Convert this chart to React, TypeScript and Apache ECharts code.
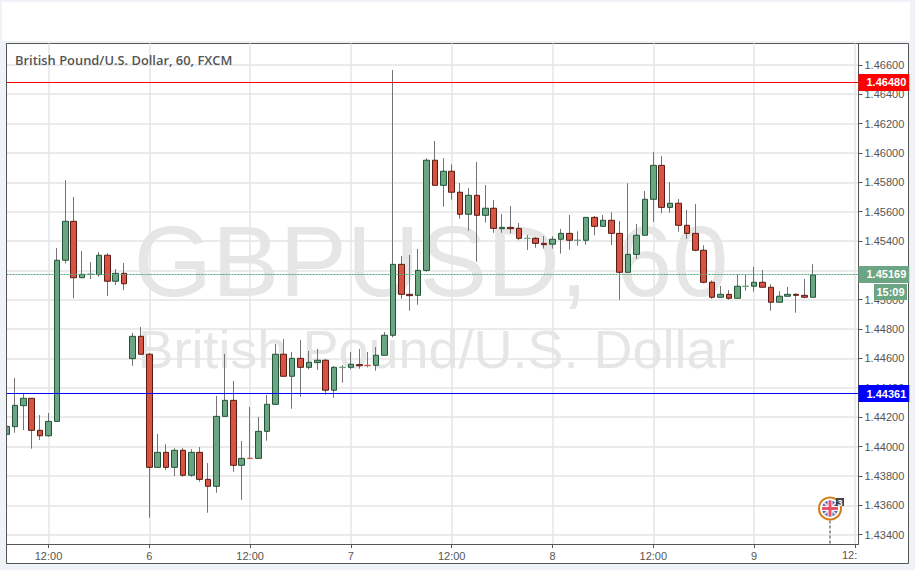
import React, { useEffect, useRef } from "react";
import * as echarts from "echarts";

// Hourly bar numbers: the first bar is hour 7, 12:00 on the first day is hour 12.
const firstHour = 7;
const opens = [
  1.44084, 1.44136, 1.44279, 1.44329, 1.44111, 1.44074, 1.44172, 1.45269, 1.45534, 1.4515,
  1.45173, 1.45171, 1.45303, 1.45126, 1.4518, 1.44599, 1.44751, 1.44629, 1.43859, 1.43961,
  1.43859, 1.43975, 1.43805, 1.43961, 1.43777, 1.4373, 1.44206, 1.44315, 1.43873, 1.43921,
  1.4392, 1.44104, 1.44288, 1.44629, 1.44479, 1.44601, 1.4454, 1.44572, 1.44588, 1.44384,
  1.44538, 1.4454, 1.44558, 1.44554, 1.44554, 1.44622, 1.44758, 1.45241, 1.45037, 1.4503,
  1.452, 1.4595, 1.45779, 1.45875, 1.45732, 1.45582, 1.45711, 1.45575, 1.45623, 1.45484,
  1.45493, 1.45486, 1.45417, 1.45418, 1.45384, 1.45378, 1.45412, 1.45452, 1.45404, 1.45405,
  1.45561, 1.455, 1.45541, 1.45452, 1.45187, 1.45309, 1.45439, 1.45684, 1.45915, 1.45629,
  1.45657, 1.45507, 1.45452, 1.45337, 1.45119, 1.45017, 1.45037, 1.4501, 1.45091, 1.45092,
  1.45119, 1.45085, 1.44983, 1.45024, 1.45037, 1.4503, 1.45017,
];
const highs = [
  1.44145, 1.44467, 1.44365, 1.44329, 1.44215, 1.44229, 1.45352, 1.45815, 1.457, 1.45332,
  1.45257, 1.45325, 1.45316, 1.45209, 1.4525, 1.44774, 1.44814, 1.44637, 1.44086, 1.44016,
  1.43989, 1.43989, 1.43982, 1.43997, 1.43888, 1.44345, 1.44631, 1.44447, 1.44038, 1.4427,
  1.44202, 1.44351, 1.44699, 1.44733, 1.44644, 1.44726, 1.44651, 1.44665, 1.44597, 1.44549,
  1.44556, 1.44644, 1.44665, 1.44644, 1.44678, 1.4478, 1.46564, 1.45298, 1.45305, 1.45346,
  1.45963, 1.46081, 1.45963, 1.45922, 1.45795, 1.45761, 1.45938, 1.45781, 1.45679, 1.45584,
  1.45638, 1.45523, 1.45441, 1.45427, 1.45434, 1.45432, 1.45482, 1.45577, 1.45466, 1.45561,
  1.4557, 1.45577, 1.45595, 1.45536, 1.45793, 1.45516, 1.4574, 1.46006, 1.45979, 1.45802,
  1.45686, 1.45611, 1.45652, 1.45371, 1.45132, 1.45094, 1.45066, 1.45173, 1.45173, 1.45223,
  1.45203, 1.45105, 1.45058, 1.45087, 1.45044, 1.45141, 1.45243,
];
const lows = [
  1.4408, 1.44095, 1.44113, 1.43986, 1.44045, 1.44068, 1.44172, 1.45248, 1.4501, 1.4515,
  1.45141, 1.45157, 1.45025, 1.451, 1.45066, 1.44551, 1.44629, 1.43516, 1.43859, 1.43841,
  1.438, 1.43795, 1.43795, 1.43761, 1.4355, 1.43686, 1.44206, 1.43829, 1.43638, 1.43918,
  1.4392, 1.4404, 1.44288, 1.44479, 1.44258, 1.4434, 1.44526, 1.44522, 1.44354, 1.44333,
  1.44435, 1.44526, 1.4453, 1.4454, 1.44517, 1.44622, 1.44744, 1.45007, 1.44925, 1.44966,
  1.45191, 1.45779, 1.45634, 1.45681, 1.45552, 1.4547, 1.45259, 1.45525, 1.45456, 1.45456,
  1.45452, 1.45405, 1.45339, 1.45354, 1.45348, 1.45348, 1.45314, 1.45341, 1.45368, 1.45375,
  1.45439, 1.455, 1.45373, 1.45, 1.45187, 1.45277, 1.45439, 1.45531, 1.45589, 1.45593,
  1.45463, 1.45416, 1.4533, 1.45112, 1.45007, 1.45017, 1.45, 1.4501, 1.45062, 1.45055,
  1.45085, 1.44925, 1.44983, 1.45024, 1.44912, 1.4501, 1.45017,
];
const closes = [
  1.44138, 1.44281, 1.44329, 1.44111, 1.44074, 1.44172, 1.45269, 1.45534, 1.4515, 1.45173,
  1.45175, 1.45303, 1.45126, 1.4518, 1.45109, 1.44751, 1.44629, 1.43859, 1.43961, 1.43859,
  1.43975, 1.43805, 1.43961, 1.43777, 1.4373, 1.44206, 1.44315, 1.43873, 1.4392, 1.43919,
  1.44104, 1.44288, 1.44629, 1.44479, 1.44601, 1.4454, 1.44574, 1.44588, 1.44384, 1.4454,
  1.44541, 1.44561, 1.44551, 1.44551, 1.44622, 1.44758, 1.45241, 1.45037, 1.45028, 1.452,
  1.4595, 1.45779, 1.45875, 1.45732, 1.45582, 1.45711, 1.45575, 1.45623, 1.45486, 1.45493,
  1.45484, 1.45418, 1.45419, 1.45384, 1.45375, 1.45412, 1.45452, 1.45405, 1.45406, 1.45561,
  1.455, 1.45541, 1.45452, 1.45187, 1.45309, 1.45439, 1.45684, 1.45915, 1.45629, 1.45657,
  1.45507, 1.45452, 1.45337, 1.45119, 1.45017, 1.45037, 1.4501, 1.45092, 1.45093, 1.45119,
  1.45085, 1.44983, 1.45024, 1.45037, 1.4503, 1.45017, 1.45169,
];

const yTickValues = [
  1.434, 1.436, 1.438, 1.44, 1.442, 1.444, 1.446, 1.448, 1.45, 1.452, 1.454, 1.456, 1.458,
  1.46, 1.462, 1.464, 1.466,
];
const xTickHours = [12, 24, 36, 48, 60, 72, 84, 96, 108];
const xTickLabels = ["12:00", "6", "12:00", "7", "12:00", "8", "12:00", "9", ""];
const clippedLastLabel = "12:";

const resistanceLevel = 1.4648;
const supportLevel = 1.44361;
const lastPrice = 1.45169;
// Drawn a hair above the quoted price so that the 1px dashes land on one pixel row.
const lastPriceLineLevel = 1.45172;
const countdownLabel = "15:09";
const titleText = "British Pound/U.S. Dollar, 60, FXCM";
const watermarkSymbol = "GBPUSD, 60";
const watermarkName = "British Pound/U.S. Dollar";

const UP = "#6ba583";
const DOWN = "#d75442";
const UP_BORDER = "#225437";
const DOWN_BORDER = "#5b1a13";
const WICK = "#737375";
const GRID = "#e4e4e4";
const AXIS = "#555555";
const PAGE = "#eff3f7";
const SANS = '"Liberation Sans", Arial, sans-serif';

function priceLine(level: number, quoted: number, color: string, labelColor: string, dashed: boolean) {
  return {
    yAxis: level,
    lineStyle: { color, width: 1, type: dashed ? ([2, 1] as number[]) : "solid", opacity: 1 },
    label: {
      show: true,
      position: "end",
      distance: 0,
      formatter: () => quoted.toFixed(5),
      color: "#ffffff",
      fontFamily: SANS,
      fontSize: 11,
      fontWeight: "bold",
      backgroundColor: labelColor,
      padding: [3, 3, 3, 8],
    },
  };
}

function flagGraphics() {
  const cx = 830;
  const cy = 508.5;
  const r = 8;
  const d = r * 0.707;
  return [
    { type: "line", z: 20, shape: { x1: cx, y1: cy + 12, x2: cx, y2: 544 }, style: { stroke: "#999999", lineWidth: 2, lineDash: [3, 2] } },
    { type: "circle", z: 20, shape: { cx, cy, r: 11 }, style: { fill: "#ffffff", stroke: "#d27c12", lineWidth: 2 } },
    { type: "circle", z: 21, shape: { cx, cy, r }, style: { fill: "#4f63ad" } },
    { type: "line", z: 22, shape: { x1: cx - d, y1: cy - d, x2: cx + d, y2: cy + d }, style: { stroke: "#f2d7de", lineWidth: 2 } },
    { type: "line", z: 22, shape: { x1: cx - d, y1: cy + d, x2: cx + d, y2: cy - d }, style: { stroke: "#f2d7de", lineWidth: 2 } },
    { type: "line", z: 23, shape: { x1: cx - r, y1: cy, x2: cx + r, y2: cy }, style: { stroke: "#ffffff", lineWidth: 5 } },
    { type: "line", z: 23, shape: { x1: cx, y1: cy - r, x2: cx, y2: cy + r }, style: { stroke: "#ffffff", lineWidth: 5 } },
    { type: "line", z: 24, shape: { x1: cx - r, y1: cy, x2: cx + r, y2: cy }, style: { stroke: "#e8526b", lineWidth: 3 } },
    { type: "line", z: 24, shape: { x1: cx, y1: cy - r, x2: cx, y2: cy + r }, style: { stroke: "#e8526b", lineWidth: 3 } },
    { type: "rect", z: 25, shape: { x: 836, y: 498, width: 8, height: 8 }, style: { fill: "#444444" } },
    { type: "text", z: 26, style: { x: 840, y: 502.5, text: "3", fill: "#ffffff", font: `bold 9px ${SANS}`, textAlign: "center", textVerticalAlign: "middle" } },
  ];
}

export default function App() {
  const ref = useRef<HTMLDivElement>(null);
  useEffect(() => {
    const chart = echarts.init(ref.current!, undefined, { renderer: "svg" });
    const hours = opens.map((_, i) => firstHour + i);
    const wickData = hours.map((h, i) => [h, opens[i], closes[i], lows[i], highs[i]]);
    const bodyData = hours.map((h, i) => {
      const up = closes[i] >= opens[i];
      const o = opens[i];
      const c = closes[i];
      const thin = Math.abs(o - c) < 0.00005;
      return {
        value: [h, o, c, Math.min(o, c), Math.max(o, c)],
        itemStyle: thin ? { borderColor: up ? UP : DOWN, borderColor0: up ? UP : DOWN } : undefined,
      };
    });
    chart.setOption({
      animation: false,
      backgroundColor: PAGE,
      grid: { left: 6.5, top: 43.5, width: 852, height: 500.5, show: false },
      xAxis: {
        type: "value",
        min: firstHour,
        max: firstHour + 852 / 8.4,
        axisLine: { show: true, lineStyle: { color: AXIS, width: 1 } },
        axisTick: { show: true, length: 4, lineStyle: { color: AXIS }, customValues: xTickHours },
        axisLabel: {
          customValues: xTickHours,
          color: AXIS,
          fontFamily: SANS,
          fontSize: 11,
          margin: 6,
          formatter: (v: number) => xTickLabels[xTickHours.indexOf(v)] ?? "",
        },
        splitLine: { show: true, lineStyle: { color: GRID, width: 1.5 } },
      },
      yAxis: {
        type: "value",
        position: "right",
        min: 1.43337,
        max: 1.467447,
        axisLine: { show: true, lineStyle: { color: AXIS, width: 1 } },
        axisTick: { show: true, length: 4, lineStyle: { color: AXIS }, customValues: yTickValues },
        axisLabel: {
          customValues: yTickValues,
          color: AXIS,
          fontFamily: SANS,
          fontSize: 11,
          margin: 6,
          formatter: (v: number) => v.toFixed(5),
        },
        splitLine: { show: true, lineStyle: { color: GRID, width: 1.5 } },
      },
      series: [
        {
          name: "Wicks",
          type: "candlestick",
          barWidth: 1,
          z: 2,
          itemStyle: { color: WICK, color0: WICK, borderColor: WICK, borderColor0: WICK, borderWidth: 1 },
          data: wickData,
        },
        {
          name: "GBPUSD",
          type: "candlestick",
          barWidth: 6,
          z: 3,
          itemStyle: { color: UP, color0: DOWN, borderColor: UP_BORDER, borderColor0: DOWN_BORDER, borderWidth: 1 },
          data: bodyData,
          markLine: {
            silent: true,
            symbol: "none",
            precision: 5,
            animation: false,
            data: [
              priceLine(resistanceLevel, resistanceLevel, "#ff0000", "#ff0000", false),
              priceLine(supportLevel, supportLevel, "#0000ff", "#0000ff", false),
              priceLine(lastPriceLineLevel, lastPrice, "#55a47a", UP, true),
            ],
          },
        },
      ],
      graphic: [
        { type: "rect", z: -3, shape: { x: 2, y: 2, width: 908, height: 39 }, style: { fill: "#ffffff" } },
        { type: "rect", z: -3, shape: { x: 6.5, y: 43.5, width: 902, height: 520 }, style: { fill: "#ffffff", stroke: AXIS, lineWidth: 1 } },
        { type: "rect", z: 10, shape: { x: 0, y: 44, width: 6, height: 500 }, style: { fill: PAGE } },
        { type: "line", z: 11, shape: { x1: 6.5, y1: 43.5, x2: 6.5, y2: 563.5 }, style: { stroke: AXIS, lineWidth: 1 } },
        { type: "text", z: -2, style: { x: 431, y: 261, text: watermarkSymbol, fill: "#e6e6e6", font: `101px ${SANS}`, textAlign: "center", textVerticalAlign: "middle" } },
        { type: "text", z: -2, style: { x: 436, y: 349, text: watermarkName, fill: "#e6e6e6", font: `54px ${SANS}`, textAlign: "center", textVerticalAlign: "middle" } },
        { type: "text", z: 20, style: { x: 15, y: 60, text: titleText, fill: "#555555", font: `600 12.9px "Open Sans", ${SANS}`, textAlign: "left", textVerticalAlign: "middle" } },
        { type: "text", z: 20, style: { x: 842, y: 555, text: clippedLastLabel, fill: AXIS, font: `11px ${SANS}`, textAlign: "left", textVerticalAlign: "middle" } },
        { type: "rect", z: 20, shape: { x: 874, y: 284, width: 33, height: 16 }, style: { fill: UP } },
        { type: "text", z: 21, style: { x: 890.5, y: 292, text: countdownLabel, fill: "#ffffff", font: `bold 11px ${SANS}`, textAlign: "center", textVerticalAlign: "middle" } },
        ...flagGraphics(),
      ],
    });
    return () => chart.dispose();
  }, []);
  return <div ref={ref} style={{ position: "absolute", left: 0, top: 0, width: 915, height: 570 }} />;
}
